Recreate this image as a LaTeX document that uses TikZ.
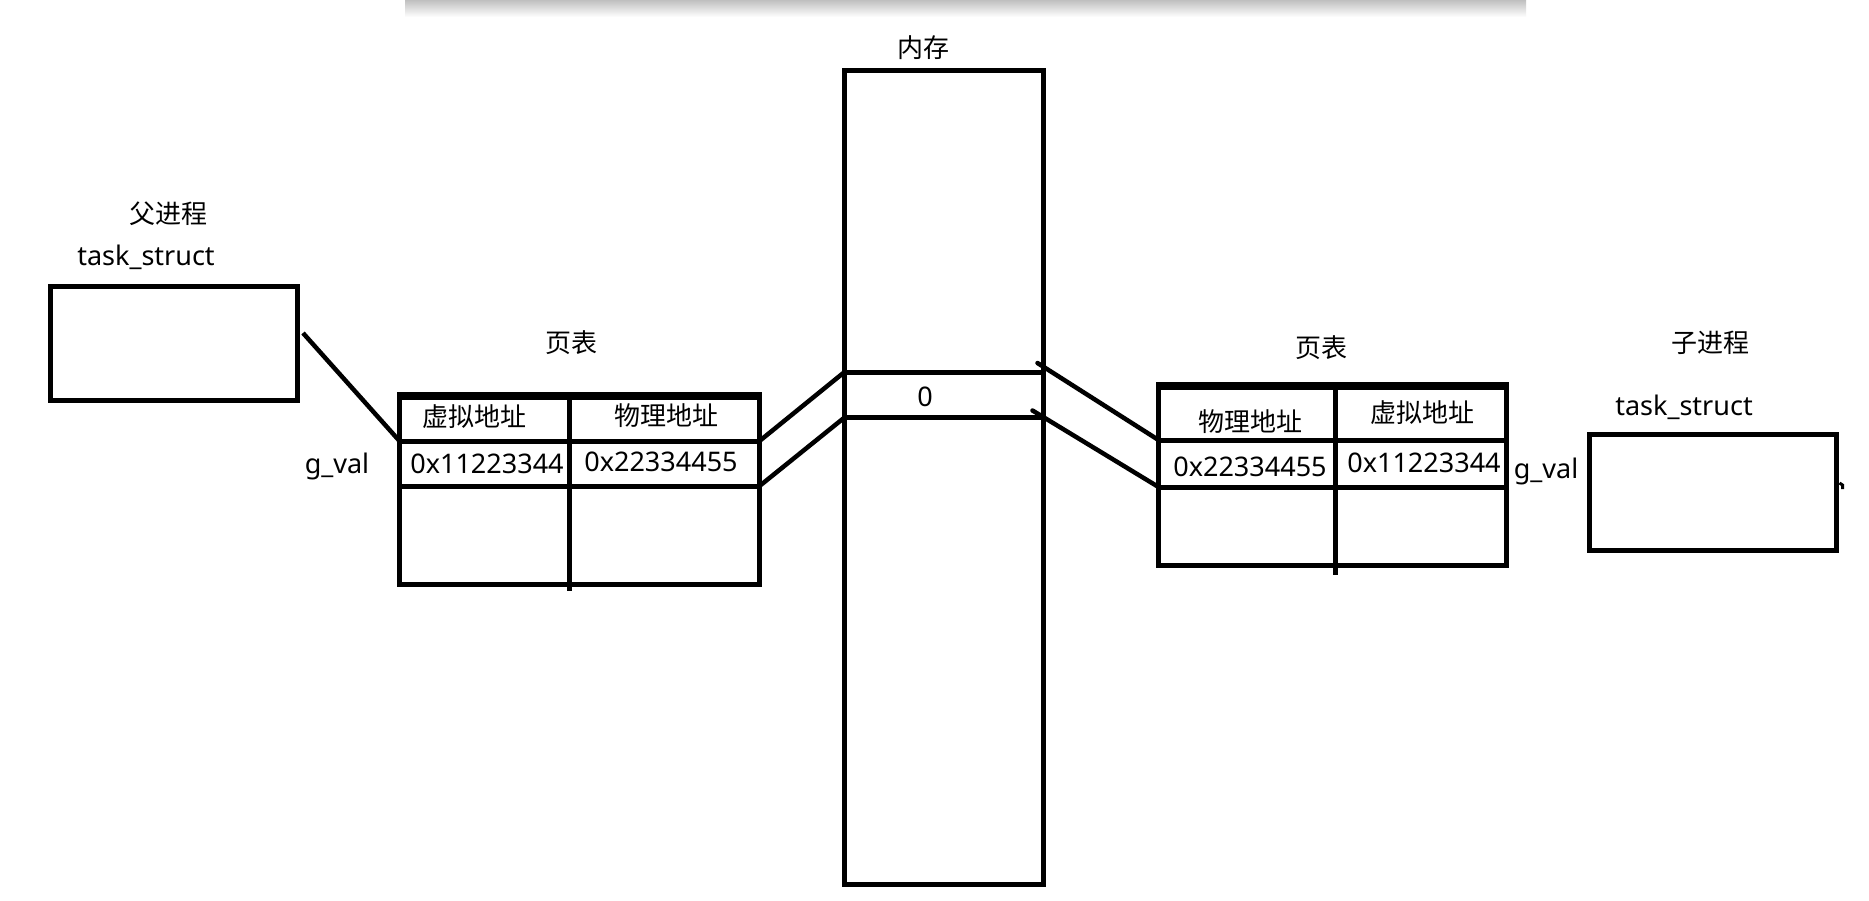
\documentclass[tikz,border=0pt]{standalone}
\usepackage{fontspec}
\setmainfont{Noto Sans}
\newfontfamily\cjk{Noto Sans CJK SC}
\usetikzlibrary{calc}
\begin{document}
\begin{tikzpicture}[x=1pt,y=-1pt,
  cell/.style={draw, line width=5pt, inner sep=0pt, outer sep=0pt, anchor=north west},
  conn/.style={line width=4.5pt},
  zh/.style={font=\cjk\fontsize{26}{30}\selectfont, inner sep=0pt},
  lat/.style={font=\fontsize{27}{31}\selectfont, inner sep=0pt},
  thick top/.style={line width=8.5pt, shorten <=-2.5pt, shorten >=-2.5pt}]
\useasboundingbox[fill=white] (0,0) rectangle (1869,900);
% screenshot toolbar shadow
\shade[top color=black!25, bottom color=white] (405,0) rectangle (1526,17);

% memory
\node[cell, minimum width=199pt, minimum height=814pt] (mem) at (844.5,70.5) {};
\node[cell, minimum width=199pt, minimum height=45.5pt] (memrow) at (844.5,372) {};
\node[zh] (memlbl) at (923,48) {内存};
\node[lat] (zero) at (925,397) {0};

% parent process
\node[cell, minimum width=247pt, minimum height=114pt] (pbox) at (50,286) {};
\node[zh] (plbl) at (168,214) {父进程};
\node[lat] (pts) at (146,257) {task\_struct};

% left page table
\node[cell, minimum width=170pt, minimum height=45pt] (lh1) at (399.5,396) {};
\node[cell, minimum width=190pt, minimum height=45pt] (lh2) at (569.5,396) {};
\node[cell, minimum width=170pt, minimum height=45pt] (ld1) at (399.5,441) {};
\node[cell, minimum width=190pt, minimum height=45pt] (ld2) at (569.5,441) {};
\node[cell, minimum width=170pt, minimum height=98pt] (le1) at (399.5,486) {};
\node[cell, minimum width=190pt, minimum height=98pt] (le2) at (569.5,486) {};
\draw[thick top] (lh1.north west) -- (lh2.north east);
\draw[line width=5pt] (le1.south east) -- ++(0,7);
\node[zh] (lptlbl) at (571,343) {页表};
\node[zh] (lh1t) at (474,417) {虚拟地址};
\node[zh] (lh2t) at (666,416) {物理地址};
\node[lat] (ld1t) at (487,464) {0x11223344};
\node[lat] (ld2t) at (661,462) {0x22334455};
\node[lat] (lgval) at (337,466) {g\_val};

% right page table
\node[cell, minimum width=176.5pt, minimum height=54pt] (rh1) at (1158.5,386) {};
\node[cell, minimum width=171.5pt, minimum height=54pt] (rh2) at (1335,386) {};
\node[cell, minimum width=176.5pt, minimum height=47pt] (rd1) at (1158.5,440) {};
\node[cell, minimum width=171.5pt, minimum height=47pt] (rd2) at (1335,440) {};
\node[cell, minimum width=176.5pt, minimum height=78.5pt] (re1) at (1158.5,487) {};
\node[cell, minimum width=171.5pt, minimum height=78.5pt] (re2) at (1335,487) {};
\draw[thick top] (rh1.north west) -- (rh2.north east);
\draw[line width=5pt] (re1.south east) -- ++(0,9.5);
\node[zh] (rptlbl) at (1321,348) {页表};
\node[zh] (rh1t) at (1250,422) {物理地址};
\node[zh] (rh2t) at (1422,413) {虚拟地址};
\node[lat] (rd1t) at (1250,467) {0x22334455};
\node[lat] (rd2t) at (1424,463) {0x11223344};
\node[lat] (rgval) at (1546,471) {g\_val};

% child process
\node[cell, minimum width=247.5pt, minimum height=116pt] (cbox) at (1589,434) {};
\node[zh] (clbl) at (1710,343) {子进程};
\node[lat] (cts) at (1684,407) {task\_struct};
\draw[line width=3pt] ($(cbox.east)+(3,-9)$) -- ++(3,2) -- ++(0,4);

% connectors
\draw[conn] ($(pbox.east)+(6,-10)$) -- (ld1.north west);
\draw[conn] (lh2.south east) -- (memrow.north west);
\draw[conn] (ld2.south east) -- (memrow.south west);
\draw[conn, line cap=round] ($(memrow.north east)+(-6,-9)$) -- (rh1.south west);
\draw[conn, line cap=round] ($(memrow.south east)+(-11,-7)$) -- (rd1.south west);
\end{tikzpicture}
\end{document}
